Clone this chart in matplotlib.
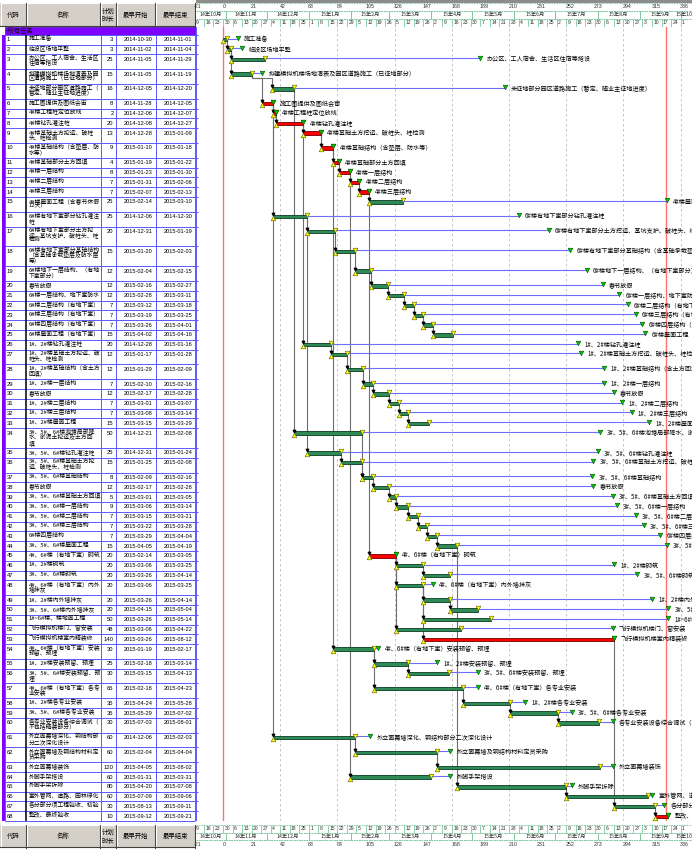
import numpy as np
import pandas as pd
import matplotlib
matplotlib.use('Agg')
import matplotlib.pyplot as plt
from matplotlib.patches import Rectangle

plt.rcParams['font.family'] = ['Noto Sans CJK SC', 'DejaVu Sans']

# task table
codes = list(range(1, 69))
names = [
    '施工准备', '临设区场地平整', '办公区、工人宿舍、生活区\n住宿等搭设',
    '拟建模拟机楼场地清表及园\n区道路施工（已征地部分）',
    '未征地部分园区道路施工（\n暂定、随业主征地进度）',
    '施工图提供及图纸会审', '4#楼工程桩定位放线', '4#楼钻孔灌注桩',
    '4#楼基础土方挖运、破桩\n头、桩检测', '4#楼基础结构（含垫层、防\n水等）',
    '4#楼基础部分土方回填', '4#楼一层结构', '4#楼二层结构', '4#楼三层结构',
    '4#楼屋面工程（含春节休假\n12天）', '6#楼有地下室部分钻孔灌注\n桩',
    '6#楼有地下室部分土方挖\n运、基坑支护、破桩头、桩\n检测',
    '6#楼有地下室部分基础结构\n（含基础承载垫层及防水层\n等）',
    '6#楼地下一层结构、（有地\n下室部分）', '春节放假',
    '6#楼一层结构、地下室防水', '6#楼二层结构（有地下室）',
    '6#楼三层结构（有地下室）', '6#楼四层结构（有地下室）',
    '6#楼屋面工程（有地下室）', '1#、2#楼钻孔灌注桩',
    '1#、2#楼基础土方挖运、破\n桩头、桩检测', '1#、2#楼基础结构（含土方\n回填）',
    '1#、2#楼一层结构', '春节放假', '1#、2#楼二层结构', '1#、2#楼三层结构',
    '1#、2#楼屋面工程', '3#、5#、6#楼池塘局部降\n水、淤泥土挖运及土方回\n填',
    '3#、5#、6#楼钻孔灌注桩', '3#、5#、6#楼基础土方挖\n运、破桩头、桩检测',
    '3#、5#、6#楼基础结构', '春节放假', '3#、5#、6#楼基础土方回填',
    '3#、5#、6#楼一层结构', '3#、5#、6#楼二层结构', '3#、5#、6#楼三层结构',
    '6#楼四层结构', '3#、5#、6#楼屋面工程', '4#、6#楼（有地下室）砌筑',
    '1#、2#楼砌筑', '3#、5#、6#楼砌筑', '4#、6#楼（有地下室）内外\n墙抹灰',
    '1#、2#楼内外墙抹灰', '3#、5#、6#楼内外墙抹灰', '1#~6#楼、楼地面工程',
    '飞行模拟机楼门、窗安装', '飞行模拟机楼室内精装修',
    '4#、6#楼（有地下室）安装\n预留、预埋', '1#、2#楼安装预留、预埋',
    '3#、5#、6#楼安装预留、预\n埋', '4#、6#楼（有地下室）各专\n业安装',
    '1#、2#楼各专业安装', '3#、5#、6#楼各专业安装',
    '各专业安装设备综合调试（\n不包括精装部分）',
    '外立面幕墙深化、钢结构部\n分二次深化设计', '外立面幕墙及钢结构材料定\n货采购',
    '外立面幕墙装饰', '外脚手架搭设', '外脚手架拆除', '室外管网、道路、园林绿化',
    '各分部分项工程验收、初验', '整改、最终验收',
]
durations = [3, 3, 25, 15, 16, 8, 2, 20, 13, 9, 4, 8, 7, 7, 25, 25, 20, 15, 12, 12,
             12, 7, 7, 7, 15, 20, 12, 12, 7, 12, 7, 7, 15, 50, 25, 15, 8, 12, 5, 9,
             7, 7, 7, 15, 20, 20, 20, 20, 20, 20, 50, 48, 140, 30, 25, 30, 65, 35, 35, 30,
             60, 60, 120, 60, 80, 60, 30, 10]
starts = ['2014-10-30', '2014-11-02', '2014-11-05', '2014-11-05', '2014-12-05', '2014-11-28',
          '2014-12-06', '2014-12-08', '2014-12-28', '2015-01-10', '2015-01-19', '2015-01-23',
          '2015-01-31', '2015-02-07', '2015-02-14', '2014-12-06', '2014-12-31', '2015-01-20',
          '2015-02-04', '2015-02-16', '2015-02-28', '2015-03-12', '2015-03-19', '2015-03-26',
          '2015-04-02', '2014-12-28', '2015-01-17', '2015-01-29', '2015-02-10', '2015-02-17',
          '2015-03-01', '2015-03-08', '2015-03-15', '2014-12-21', '2014-12-31', '2015-01-25',
          '2015-02-09', '2015-02-17', '2015-03-01', '2015-03-06', '2015-03-15', '2015-03-22',
          '2015-03-29', '2015-04-05', '2015-02-14', '2015-03-06', '2015-03-26', '2015-03-06',
          '2015-03-26', '2015-04-15', '2015-03-26', '2015-03-06', '2015-03-26', '2015-01-19',
          '2015-02-18', '2015-03-15', '2015-02-18', '2015-04-24', '2015-05-29', '2015-07-03',
          '2014-12-06', '2015-02-04', '2015-04-05', '2015-01-31', '2015-04-20', '2015-07-09',
          '2015-08-13', '2015-09-12']
ends = ['2014-11-01', '2014-11-04', '2014-11-29', '2014-11-19', '2014-12-20', '2014-12-05',
        '2014-12-07', '2014-12-27', '2015-01-09', '2015-01-18', '2015-01-22', '2015-01-30',
        '2015-02-06', '2015-02-13', '2015-03-10', '2014-12-30', '2015-01-19', '2015-02-03',
        '2015-02-15', '2015-02-27', '2015-03-11', '2015-03-18', '2015-03-25', '2015-04-01',
        '2015-04-16', '2015-01-16', '2015-01-28', '2015-02-09', '2015-02-16', '2015-02-28',
        '2015-03-07', '2015-03-14', '2015-03-29', '2015-02-08', '2015-01-24', '2015-02-08',
        '2015-02-16', '2015-02-28', '2015-03-05', '2015-03-14', '2015-03-21', '2015-03-28',
        '2015-04-04', '2015-04-19', '2015-03-05', '2015-03-25', '2015-04-14', '2015-03-25',
        '2015-04-14', '2015-05-04', '2015-05-14', '2015-04-22', '2015-08-12', '2015-02-17',
        '2015-03-14', '2015-04-13', '2015-04-23', '2015-05-28', '2015-07-02', '2015-08-01',
        '2015-02-03', '2015-04-04', '2015-08-02', '2015-03-31', '2015-07-08', '2015-09-06',
        '2015-09-11', '2015-09-21']
# total float (days)
total_float = [8, 8, 158, 8, 155, 0, 0, 0, 0, 0, 0, 0, 0, 0, 194, 155, 157, 158, 158, 158,
               158, 157, 156, 154, 141, 182, 172, 177, 170, 165, 164, 164, 162, 175, 188, 170,
               161, 150, 159, 153, 160, 159, 164, 154, 0, 140, 137, 7, 148, 140, 130, 111,
               0, 3, 21, 21, 11, 11, 10, 10, 11, 10, 9, 14, 4, 3, 7, 0]
critical = [6, 7, 8, 9, 10, 11, 12, 13, 14, 45, 53, 68]
preds = {2: [1], 3: [2], 4: [2], 5: [4], 6: [4], 7: [6], 8: [7], 9: [8], 10: [9], 11: [10],
         12: [11], 13: [12], 14: [13], 15: [14], 16: [6], 17: [16], 18: [17], 19: [18],
         20: [19], 21: [20], 22: [21], 23: [22], 24: [23], 25: [24], 26: [8], 27: [26],
         28: [27], 29: [28], 30: [29], 31: [30], 32: [31], 33: [32], 34: [5], 35: [16],
         36: [35], 37: [36, 34], 38: [37], 39: [38], 40: [39], 41: [40], 42: [41], 43: [42],
         44: [43], 45: [14], 46: [45], 47: [46], 48: [45], 49: [48], 50: [49], 51: [48],
         52: [45], 53: [48], 54: [10], 55: [54], 56: [55], 57: [54], 58: [57], 59: [58],
         60: [59], 61: [6], 62: [61], 63: [62], 64: [12], 65: [44], 66: [65], 67: [53],
         68: [67]}

scale_ticks = list(range(-21, 337, 21))
base = pd.Timestamp('2014-10-30')
finish_line = 325.5

# ---- layout ----
W, H = 692, 850
fig = plt.figure(figsize=(W / 100, H / 100), dpi=100)
fig.patch.set_facecolor('white')


def px_axes(x0, y0, x1, y1):
    a = fig.add_axes([x0 / W, 1 - y1 / H, (x1 - x0) / W, (y1 - y0) / H])
    a.set_axis_off()
    return a


start_d = np.array([(pd.Timestamp(s) - base).days for s in starts], dtype=float)
end_d = np.array([(pd.Timestamp(e) - base).days + 1 for e in ends], dtype=float)
late_d = end_d + np.array(total_float)
n_lines = np.array([n.count('\n') + 1 for n in names])
heights = 4.8 + 5.0 * n_lines
SUM_T, SUM_B = 26.7, 34.7
tops = SUM_B + np.concatenate([[0], np.cumsum(heights)[:-1]])
BODY_B = SUM_B + heights.sum()
centers = tops + 5.0

PX_DAY = 1.362
DAY0_X = 223
G_L = 196
d_left = (G_L - DAY0_X) / PX_DAY
d_right = (W - DAY0_X) / PX_DAY

# ---- table ----
tab = px_axes(0, 0, G_L, H)
tab.set_xlim(0, G_L)
tab.set_ylim(H, 0)
cols = [(0, 26, '代码'), (26, 100.5, '名称'), (100.5, 116, '计划\n时长'),
        (116, 155.5, '最早开始'), (155.5, 195, '最早结束')]


def table_header(y0, y1):
    for x0, x1, lab in cols:
        tab.add_patch(Rectangle((x0, y0), x1 - x0, y1 - y0, facecolor='#d4d0c8',
                                edgecolor='none'))
        tab.plot([x0 + 0.5, x1 - 0.5], [y0 + 0.5, y0 + 0.5], color='white', lw=0.8)
        tab.plot([x0 + 0.5, x0 + 0.5], [y0 + 0.5, y1 - 0.5], color='white', lw=0.8)
        tab.plot([x0, x1 - 0.5], [y1 - 0.5, y1 - 0.5], color='#404040', lw=0.8)
        tab.plot([x1 - 0.5, x1 - 0.5], [y0, y1], color='#404040', lw=0.8)
        tab.text((x0 + x1) / 2, (y0 + y1) / 2, lab, ha='center', va='center',
                 fontsize=4.6, linespacing=0.95)


table_header(2.5, SUM_T)
table_header(BODY_B + 3.5, H - 2.5)

tab.add_patch(Rectangle((4.5, SUM_T), 190.5, SUM_B - SUM_T, facecolor='#8000ff',
                        edgecolor='#5000c0', lw=0.5))
tab.text(6, (SUM_T + SUM_B) / 2, '-所有任务', fontsize=4.6, va='center', color='#101010')
tab.add_patch(Rectangle((2.2, SUM_B), 2.6, BODY_B - SUM_B, facecolor='#8000ff',
                        edgecolor='none'))

for i in range(len(codes)):
    t = tops[i]
    tab.text(6.5, t + 5, str(codes[i]), fontsize=4.2, va='center',
             family=['Liberation Sans', 'DejaVu Sans'])
    tab.text(28.5, t + 0.9, names[i], fontsize=4.2, va='top', linespacing=0.86)
    tab.text(113.5, t + 5, str(durations[i]), fontsize=4.2, va='center', ha='right',
             family=['Liberation Sans', 'DejaVu Sans'])
    tab.text(152.5, t + 5, starts[i], fontsize=4.1, va='center', ha='right',
             family=['Liberation Sans', 'DejaVu Sans'])
    tab.text(192.5, t + 5, ends[i], fontsize=4.1, va='center', ha='right',
             family=['Liberation Sans', 'DejaVu Sans'])

grid_y = np.concatenate([[SUM_B], tops + heights])
tab.hlines(grid_y, 5, 195, color='#5a5aff', lw=0.7)
tab.vlines([5, 100.5, 116, 155.5, 195], SUM_B, BODY_B, color='#5a5aff', lw=0.7)
tab.vlines(26, SUM_B, BODY_B, color='black', lw=1.1)

# ---- gantt body ----
gx = px_axes(G_L, SUM_T, W, BODY_B)
gx.set_xlim(d_left, d_right)
gx.set_ylim(BODY_B, SUM_T)

for d in scale_ticks[1::2]:
    gx.axvline(d, color='#bdbdbd', lw=0.6, ls=(0, (3, 3)))
gx.axvline(0, color='#ff7070', lw=1.0)
gx.axvline(finish_line, color='#ff7070', lw=1.0)
gx.axvline(d_left + 0.15, color='#4040ff', lw=1.2)
gx.hlines(grid_y, d_left, d_left + 1.3, color='#4040ff', lw=0.6)

# dependency links
for t, plist in preds.items():
    ti = t - 1
    for p in plist:
        pi = p - 1
        x0, y0 = end_d[pi], centers[pi] + 1.6
        x1, y1 = start_d[ti], centers[ti] - 2.2
        if abs(x0 - x1) < 0.5:
            gx.plot([x0, x0], [y0, y1], color='#6e6e6e', lw=0.8, zorder=2)
        else:
            ym = centers[pi] + 4.0
            gx.plot([x0, x0, x1, x1], [y0, ym, ym, y1], color='#6e6e6e', lw=0.8, zorder=2)
        gx.scatter([x1], [y1 - 0.3], marker='v', s=3, color='black', zorder=5)

# float lines
gx.hlines(centers - 1.2, end_d, late_d, color='#6f6fff', lw=0.8, zorder=3)

colors = ['#ff0000' if c in critical else '#2e8b57' for c in codes]
edges = ['#700000' if c in critical else '#0b3b1f' for c in codes]
gx.barh(centers, end_d - start_d, left=start_d, height=3.4, color=colors,
        edgecolor=edges, linewidth=0.6, zorder=4)

gx.scatter(start_d, centers + 1.5, marker='^', s=11, color='#ffff00',
           edgecolor='#5a5a00', linewidths=0.4, zorder=6)
gx.scatter(end_d, centers - 1.5, marker='v', s=11, color='#ffff00',
           edgecolor='#5a5a00', linewidths=0.4, zorder=6)
gx.scatter(late_d, centers - 1.5, marker='v', s=11, color='#00c800',
           edgecolor='#005000', linewidths=0.4, zorder=7)

for i in range(len(codes)):
    gx.annotate(names[i].replace('\n', ''), (late_d[i], centers[i]), xytext=(4.5, 0),
                textcoords='offset points', fontsize=4.4, va='center', ha='left',
                annotation_clip=False, zorder=8)


# ---- time scale (top and bottom) ----
month_starts = pd.date_range('2014-10-01', '2015-11-01', freq='MS')
thursdays = pd.date_range('2014-10-09', '2015-10-01', freq='7D')


def time_scale(y0, y1, order):
    ax = px_axes(G_L, y0, W, y1)
    ax.set_xlim(d_left, d_right)
    ax.set_ylim(y1, y0)
    h = (y1 - y0) / 3.0
    bands = {k: (y0 + j * h, y0 + (j + 1) * h) for j, k in enumerate(order)}
    for k, (a, b) in bands.items():
        ax.hlines([a, b], d_left, d_right, color='#7fc8a0', lw=0.6, ls=(0, (2, 1)))
    a, b = bands['num']
    for d in scale_ticks:
        ax.text(d - 0.5, (a + b) / 2, str(d), fontsize=3.8, va='center', ha='left',
                family=['Liberation Sans', 'DejaVu Sans'], color='#303030')
    a, b = bands['month']
    md = [(m - base).days for m in month_starts]
    ax.vlines(md, a, b, color='#7fc8a0', lw=0.7)
    for m, d0, d1 in zip(month_starts[:-1], md[:-1], md[1:]):
        c = (max(d0, d_left) + min(d1, d_right)) / 2
        ax.text(c, (a + b) / 2, f'{m.year % 100}年{m.month}月', fontsize=3.8,
                va='center', ha='center', color='#303030')
    a, b = bands['week']
    wd = [(t - base).days for t in thursdays]
    ax.vlines(wd, a, b, color='#7fc8a0', lw=0.6)
    for t, d in zip(thursdays, wd):
        ax.text(d + 1.0, (a + b) / 2, str(t.day), fontsize=3.6, va='center', ha='left',
                family=['Liberation Sans', 'DejaVu Sans'], color='#303030')
    return ax


top = time_scale(2.7, SUM_T, ['num', 'month', 'week'])
fig.add_artist(Rectangle((G_L / W, 1 - 2.7 / H), 1 - G_L / W, 2.7 / H,
                         transform=fig.transFigure, facecolor='#8c8c8c', edgecolor='none'))
bot = time_scale(BODY_B + 4, H - 2, ['week', 'month', 'num'])

fig.savefig('out.png', dpi=100, facecolor='white')
